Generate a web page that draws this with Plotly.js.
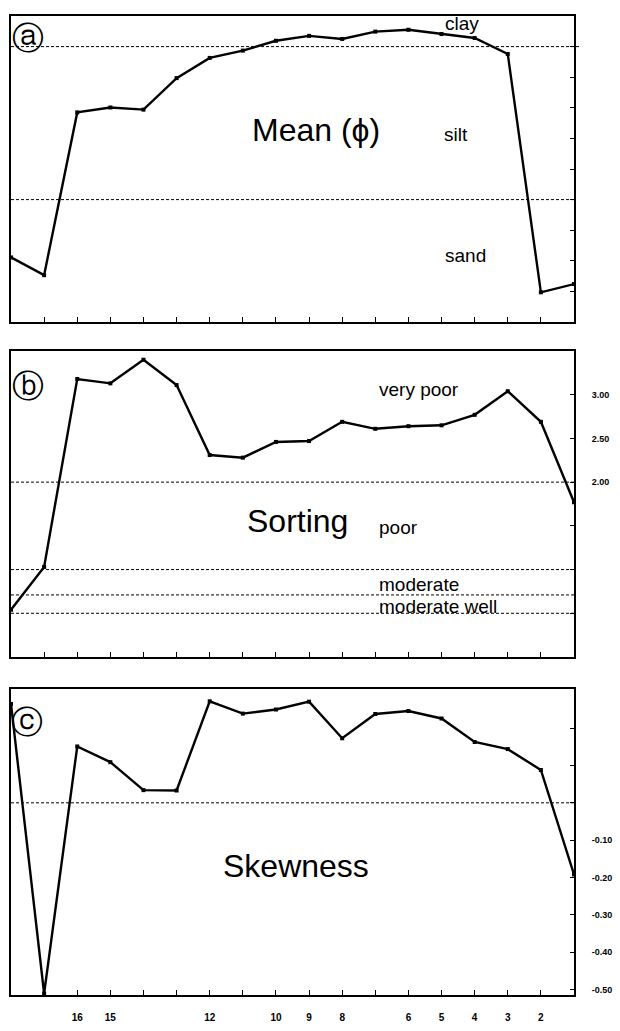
<!DOCTYPE html>
<html>
<head>
<meta charset="utf-8">
<script src="https://cdn.plot.ly/plotly-3.0.1.min.js"></script>
<style>
html,body{margin:0;padding:0;background:#fff;}
#chart{width:620px;height:1031px;}
</style>
</head>
<body>
<div id="chart"></div>
<script>
// Stations, ordered left to right
const stations = [18,17,16,15,14,13,12,11,10,9,8,7,6,5,4,3,2,1];
const stationLabels = ['','','16','15','','','12','','10','9','8','','6','5','4','3','2',''];
// Panel a: mean grain size (phi)
const meanPhi = [2.11,1.53,6.85,7.01,6.94,7.97,8.63,8.87,9.19,9.35,9.25,9.49,9.55,9.41,9.28,8.76,0.97,1.24];
// Panel b: sorting
const sorting = [0.54,1.03,3.18,3.13,3.40,3.11,2.31,2.28,2.46,2.47,2.69,2.61,2.64,2.65,2.77,3.04,2.69,1.77];
// Panel c: skewness
const skewness = [0.265,-0.511,0.151,0.109,0.034,0.033,0.272,0.239,0.250,0.271,0.173,0.238,0.246,0.226,0.163,0.144,0.088,-0.192];

const meanBounds = [9, 4];
const sortBounds = [2.0, 1.0, 0.71, 0.5];
const skewBounds = [0.0];
const sortTickVals = [3.0, 2.5, 2.0, 1.5, 1.0, 0.5];
const sortTickText = ['3.00', '2.50', '2.00', '', '', ''];
const skewTickVals = [0.2, 0.1, 0.0, -0.1, -0.2, -0.3, -0.4, -0.5];
const skewTickText = ['', '', '', '-0.10', '-0.20', '-0.30', '-0.40', '-0.50'];

const W = 620, H = 1031;
const M = {l: 11, r: 46, t: 16, b: 36};
const PW = W - M.l - M.r, PH = H - M.t - M.b;
const px = x => (x - M.l) / PW;
const py = y => (H - M.b - y) / PH;

const lineStyle = {color: '#000', width: 2.4};
const markerStyle = {symbol: 'square', size: 4, color: '#000'};
function trace(y, xa, ya) {
  return {x: stations, y: y, xaxis: xa, yaxis: ya, type: 'scatter', mode: 'lines+markers',
          line: lineStyle, marker: markerStyle, cliponaxis: false, hoverinfo: 'skip'};
}

const xBase = {
  range: [18, 1], tickmode: 'array', tickvals: stations, showline: true, mirror: true,
  linecolor: '#000', linewidth: 2, ticks: 'inside', ticklen: 5, tickwidth: 1, tickcolor: '#000',
  showgrid: false, zeroline: false, fixedrange: true
};
const yBase = {
  side: 'right', showline: true, mirror: true, linecolor: '#000', linewidth: 2,
  ticks: 'inside', ticklen: 4, tickwidth: 1, tickcolor: '#000', showgrid: false, zeroline: false,
  tickmode: 'array', tickfont: {family: 'Liberation Sans', size: 9, color: '#000', weight: 'bold'},
  fixedrange: true
};

const layout = {
  width: W, height: H, margin: M, showlegend: false,
  paper_bgcolor: '#fff', plot_bgcolor: '#fff',
  xaxis: Object.assign({}, xBase, {anchor: 'y', ticktext: stations.map(() => ''), showticklabels: false}),
  xaxis2: Object.assign({}, xBase, {anchor: 'y2', ticktext: stations.map(() => ''), showticklabels: false}),
  xaxis3: Object.assign({}, xBase, {anchor: 'y3', ticktext: stationLabels, showticklabels: true,
          ticklabelstandoff: 12, tickfont: {family: 'Liberation Sans', size: 10, color: '#000', weight: 'bold'}}),
  yaxis: Object.assign({}, yBase, {domain: [py(322), 1], range: [0, 10], tickvals: [1,2,3,4,5,6,7,8,9], ticktext: ['','','','','','','','',''], anchor: 'x'}),
  yaxis2: Object.assign({}, yBase, {domain: [py(657), py(351)], range: [0, 3.5], tickvals: sortTickVals, ticktext: sortTickText, ticklabelstandoff: 14, anchor: 'x2'}),
  yaxis3: Object.assign({}, yBase, {domain: [0, py(689)], range: [-0.515, 0.305], tickvals: skewTickVals, ticktext: skewTickText, ticklabelstandoff: 14, anchor: 'x3'}),
  shapes: [],
  annotations: []
};

const dash = {color: '#000', width: 1, dash: '3px,2px'};
meanBounds.forEach((v, i) => layout.shapes.push({type: 'line', xref: 'x domain', yref: 'y', x0: 0, x1: i === 0 ? 1.012 : 1, y0: v, y1: v, line: dash}));
sortBounds.forEach(v => layout.shapes.push({type: 'line', xref: 'x2 domain', yref: 'y2', x0: 0, x1: 1, y0: v, y1: v, line: dash}));
skewBounds.forEach(v => layout.shapes.push({type: 'line', xref: 'x3 domain', yref: 'y3', x0: 0, x1: 1, y0: v, y1: v, line: dash}));

const F = 'Liberation Sans';
function ann(text, x, y, size, opts) {
  layout.annotations.push(Object.assign({text: text, xref: 'paper', yref: 'paper', x: px(x), y: py(y),
    showarrow: false, xanchor: 'center', yanchor: 'middle', font: {family: F, size: size, color: '#000'}}, opts || {}));
}
// panel letters
const letterFont = {family: 'DejaVu Sans', size: 32, color: '#000'};
ann('ⓐ', 28, 38, 32, {font: letterFont});
ann('ⓑ', 28, 386, 32, {font: letterFont});
ann('ⓒ', 27, 722, 32, {font: letterFont});
// panel titles
ann('Mean (ϕ)', 316, 130, 32);
ann('Sorting', 297, 521, 32);
ann('Skewness', 296, 866, 32);
// class labels
ann('clay', 462, 23, 19);
ann('silt', 456, 134, 19);
ann('sand', 466, 256, 19);
ann('very poor', 419, 389, 19);
ann('poor', 398, 527, 19);
ann('moderate', 419, 584, 19);
ann('moderate well', 438, 606, 19);

Plotly.newPlot('chart', [
  trace(meanPhi, 'x', 'y'),
  trace(sorting, 'x2', 'y2'),
  trace(skewness, 'x3', 'y3')
], layout, {staticPlot: true});
</script>
</body>
</html>
